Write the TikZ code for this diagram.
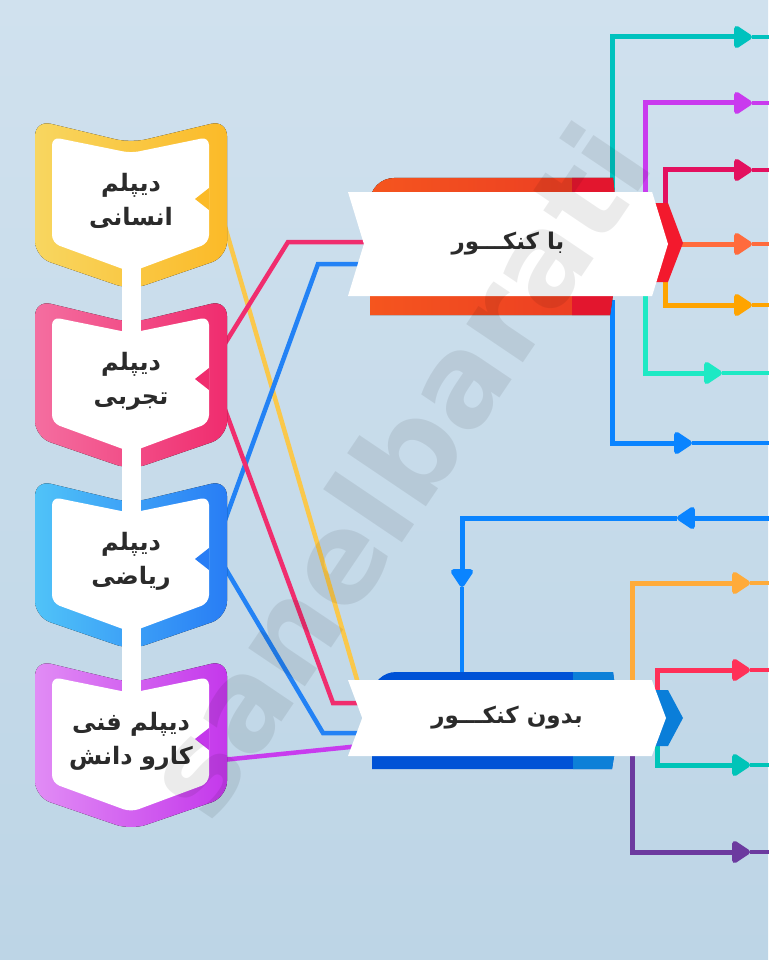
\documentclass[tikz,border=0pt]{standalone}
\usepackage{fontspec}
\usepackage{tikz}
\usetikzlibrary{arrows.meta,shapes.symbols,positioning,calc}
\newfontfamily\fafont[Script=Arabic]{DejaVu Sans}
\newfontfamily\wmfont{DejaVu Sans}
\TeXXeTstate=1
\definecolor{bgtop}{RGB}{208,225,238}
\definecolor{bgbot}{RGB}{189,213,230}
\definecolor{dtext}{RGB}{43,43,43}
\definecolor{ylwL}{RGB}{248,214,96}
\definecolor{ylwR}{RGB}{251,186,40}
\definecolor{pnkL}{RGB}{244,110,160}
\definecolor{pnkR}{RGB}{240,44,110}
\definecolor{bluL}{RGB}{80,195,248}
\definecolor{bluR}{RGB}{40,125,245}
\definecolor{prpL}{RGB}{225,140,245}
\definecolor{prpR}{RGB}{196,56,235}
\definecolor{lnYlw}{RGB}{250,200,75}
\definecolor{lnPnk}{RGB}{240,45,110}
\definecolor{lnBlu}{RGB}{35,130,245}
\definecolor{lnPrp}{RGB}{200,60,238}
\definecolor{kbandL}{RGB}{245,85,30}
\definecolor{kbandM}{RGB}{234,58,36}
\definecolor{kbandD}{RGB}{227,22,46}
\definecolor{kchev}{RGB}{243,25,45}
\definecolor{bbandL}{RGB}{0,82,214}
\definecolor{bbandD}{RGB}{13,128,216}
\definecolor{bchev}{RGB}{10,126,217}
\definecolor{rTeal}{RGB}{0,194,190}
\definecolor{rPurp}{RGB}{201,59,238}
\definecolor{rCrim}{RGB}{227,16,95}
\definecolor{rOrRd}{RGB}{255,107,61}
\definecolor{rOrng}{RGB}{255,164,0}
\definecolor{rMint}{RGB}{29,233,196}
\definecolor{rBlue}{RGB}{10,132,255}
\definecolor{sOrng}{RGB}{255,171,58}
\definecolor{sRed}{RGB}{255,49,88}
\definecolor{sTeal}{RGB}{0,196,184}
\definecolor{sPurp}{RGB}{108,58,159}
\pgfdeclarelayer{bg}
\pgfdeclarelayer{lines}
\pgfdeclarelayer{shapes}
\pgfsetlayers{bg,lines,shapes,main}
\tikzstyle{link} = [line width=4.5pt]
\tikzstyle{flow} = [line width=5pt,-{Triangle[length=20pt,width=25pt,round]}]
\tikzstyle{diptext} = [font=\fafont\bfseries\fontsize{24}{34}\selectfont, text=dtext, align=center, minimum width=192pt, minimum height=150pt, inner sep=0pt]
\tikzstyle{banner} = [signal, signal from=west, signal to=east, fill=white, inner sep=0pt, font=\fafont\bfseries\fontsize{23}{26}\selectfont, text=dtext]
% chevron box of one diploma: top, light colour, dark colour
\newcommand{\dipshape}[3]{%
  \fill[rounded corners=16pt, left color=#2, right color=#3] (35,#1) -- (131,#1+23) -- (227,#1) -- (227,#1+137) -- (131,#1+170) -- (35,#1+137) -- cycle;
  \fill[white, rounded corners=8pt] (52,#1+17) -- (131,#1+33) -- (209,#1+17) -- (209,#1+123) -- (131,#1+152) -- (52,#1+123) -- cycle;
  \fill[#3] (209,#1+68) -- (195,#1+79) -- (209,#1+90) -- cycle;
}

\begin{document}
\begin{tikzpicture}[x=1pt, y=-1pt]
\useasboundingbox (0,0) rectangle (768,960);
\begin{pgfonlayer}{bg}
\fill[top color=bgtop, bottom color=bgbot] (0,0) rectangle (768,960);
\end{pgfonlayer}

% diploma boxes
\node[diptext] (ens) at (131,201) {\beginR دیپلم\endR\\\beginR انسانی\endR};
\node[diptext] (tajr) at (131,381) {\beginR دیپلم\endR\\\beginR تجربی\endR};
\node[diptext] (riazi) at (131,561) {\beginR دیپلم\endR\\\beginR ریاضی\endR};
\node[diptext] (fani) at (131,741) {\beginR دیپلم فنی\endR\\\beginR کارو دانش\endR};

\begin{pgfonlayer}{shapes}
\dipshape{120}{ylwL}{ylwR}
\dipshape{300}{pnkL}{pnkR}
\dipshape{480}{bluL}{bluR}
\dipshape{660}{prpL}{prpR}
\fill[white] (122,262) rectangle (141,335);
\fill[white] (122,442) rectangle (141,515);
\fill[white] (122,622) rectangle (141,695);
\end{pgfonlayer}

% the two banners
\node[banner, minimum width=320pt, minimum height=104pt, signal pointer angle=146] (bakonkur) at (508,244) {\beginR با کنکـــور\endR};
\node[banner, minimum width=318pt, minimum height=76pt, signal pointer angle=139] (bikonkur) at (507,718) {\beginR بدون کنکـــور\endR};

\begin{pgfonlayer}{shapes}
% red band behind the top banner
\fill[left color=kbandL, right color=kbandM] (370,315) -- (370,250) [rounded corners=24pt] -- (370,178) -- (480,178) [sharp corners] -- (613,178) -- (620,246) -- (610,315) -- cycle;
\fill[kbandD] (572,178) -- (613,178) -- (620,246) -- (610,315) -- (572,315) -- cycle;
\fill[kchev] (650,203) -- (668,203) -- (683,243) -- (668,282) -- (650,282) -- cycle;
% blue band behind the bottom banner
\fill[bbandL] (372,769) -- (372,720) [rounded corners=24pt] -- (372,672) -- (480,672) [sharp corners] -- (613,672) -- (620,720) -- (612,769) -- cycle;
\fill[bbandD] (573,672) -- (613,672) -- (620,720) -- (612,769) -- (573,769) -- cycle;
\fill[bchev] (650,690) -- (668,690) -- (683,718) -- (668,746) -- (650,746) -- cycle;
\end{pgfonlayer}

\begin{pgfonlayer}{lines}
% diplomas to banners
\draw[link, lnYlw] ($(ens.east)+(-5,16)$) -- ($(bikonkur.center)+(-147,-28)$);
\draw[link, lnPnk] ($(tajr.east)+(-5,-33)$) -- (288,242) -- ($(bakonkur.center)+(-140,-2)$);
\draw[link, lnBlu] ($(riazi.east)+(-5,-33)$) -- (318,264) -- ($(bakonkur.center)+(-145,20)$);
\draw[link, lnPnk] ($(tajr.east)+(-5,21)$) -- (333,703) -- ($(bikonkur.center)+(-145,-15)$);
\draw[link, lnBlu] ($(riazi.east)+(-5,2)$) -- (323,733) -- ($(bikonkur.center)+(-147,15)$);
\draw[link, lnPrp] ($(fani.east)+(-5,19)$) -- ($(bikonkur.center)+(-147,28)$);

% out of the top banner
\coordinate (k1) at (752,37);
\coordinate (k2) at (752,103);
\coordinate (k3) at (752,170);
\coordinate (k4) at (752,244);
\coordinate (k5) at (752,305);
\coordinate (k6) at (722,373);
\coordinate (k7) at (692,443);
\draw[flow, rTeal] ($(bakonkur.center)+(104,-54)$) |- (k1);
\draw[link, rTeal] (k1) -- +(20,0);
\draw[flow, rPurp] ($(bakonkur.center)+(137,-44)$) |- (k2);
\draw[link, rPurp] (k2) -- +(20,0);
\draw[flow, rCrim] ($(bakonkur.center)+(157,-34)$) |- (k3);
\draw[link, rCrim] (k3) -- +(20,0);
\draw[flow, rOrRd] ($(bakonkur.center)+(160,0)$) -- (k4);
\draw[link, rOrRd] (k4) -- +(20,0);
\draw[flow, rOrng] ($(bakonkur.center)+(157,36)$) |- (k5);
\draw[link, rOrng] (k5) -- +(20,0);
\draw[flow, rMint] ($(bakonkur.center)+(137,46)$) |- (k6);
\draw[link, rMint] (k6) -- +(50,0);
\draw[flow, rBlue] ($(bakonkur.center)+(104,56)$) |- (k7);
\draw[link, rBlue] (k7) -- +(80,0);

% into and out of the bottom banner
\coordinate (b0) at (772,518);
\coordinate (b1) at (677,518);
\coordinate (b2) at (462,587);
\coordinate (b3) at (750,583);
\coordinate (b4) at (750,670);
\coordinate (b5) at (750,765);
\coordinate (b6) at (750,852);
\draw[flow, rBlue] (b0) -- (b1);
\draw[flow, rBlue] (b1) -| (b2);
\draw[link, rBlue] (b2) -- ($(bikonkur.center)+(-45,-38)$);
\draw[flow, sOrng] ($(bikonkur.center)+(125,-33)$) |- (b3);
\draw[link, sOrng] (b3) -- +(22,0);
\draw[flow, sRed] ($(bikonkur.center)+(150,-23)$) |- (b4);
\draw[link, sRed] (b4) -- +(22,0);
\draw[flow, sTeal] ($(bikonkur.center)+(150,24)$) |- (b5);
\draw[link, sTeal] (b5) -- +(22,0);
\draw[flow, sPurp] ($(bikonkur.center)+(125,32)$) |- (b6);
\draw[link, sPurp] (b6) -- +(22,0);
\end{pgfonlayer}

% watermark
\node[rotate=56, font=\wmfont\bfseries\fontsize{125}{125}\selectfont, text=black, opacity=0.08] (wm) at (395,470) {sanelbarati};
\end{tikzpicture}
\end{document}
